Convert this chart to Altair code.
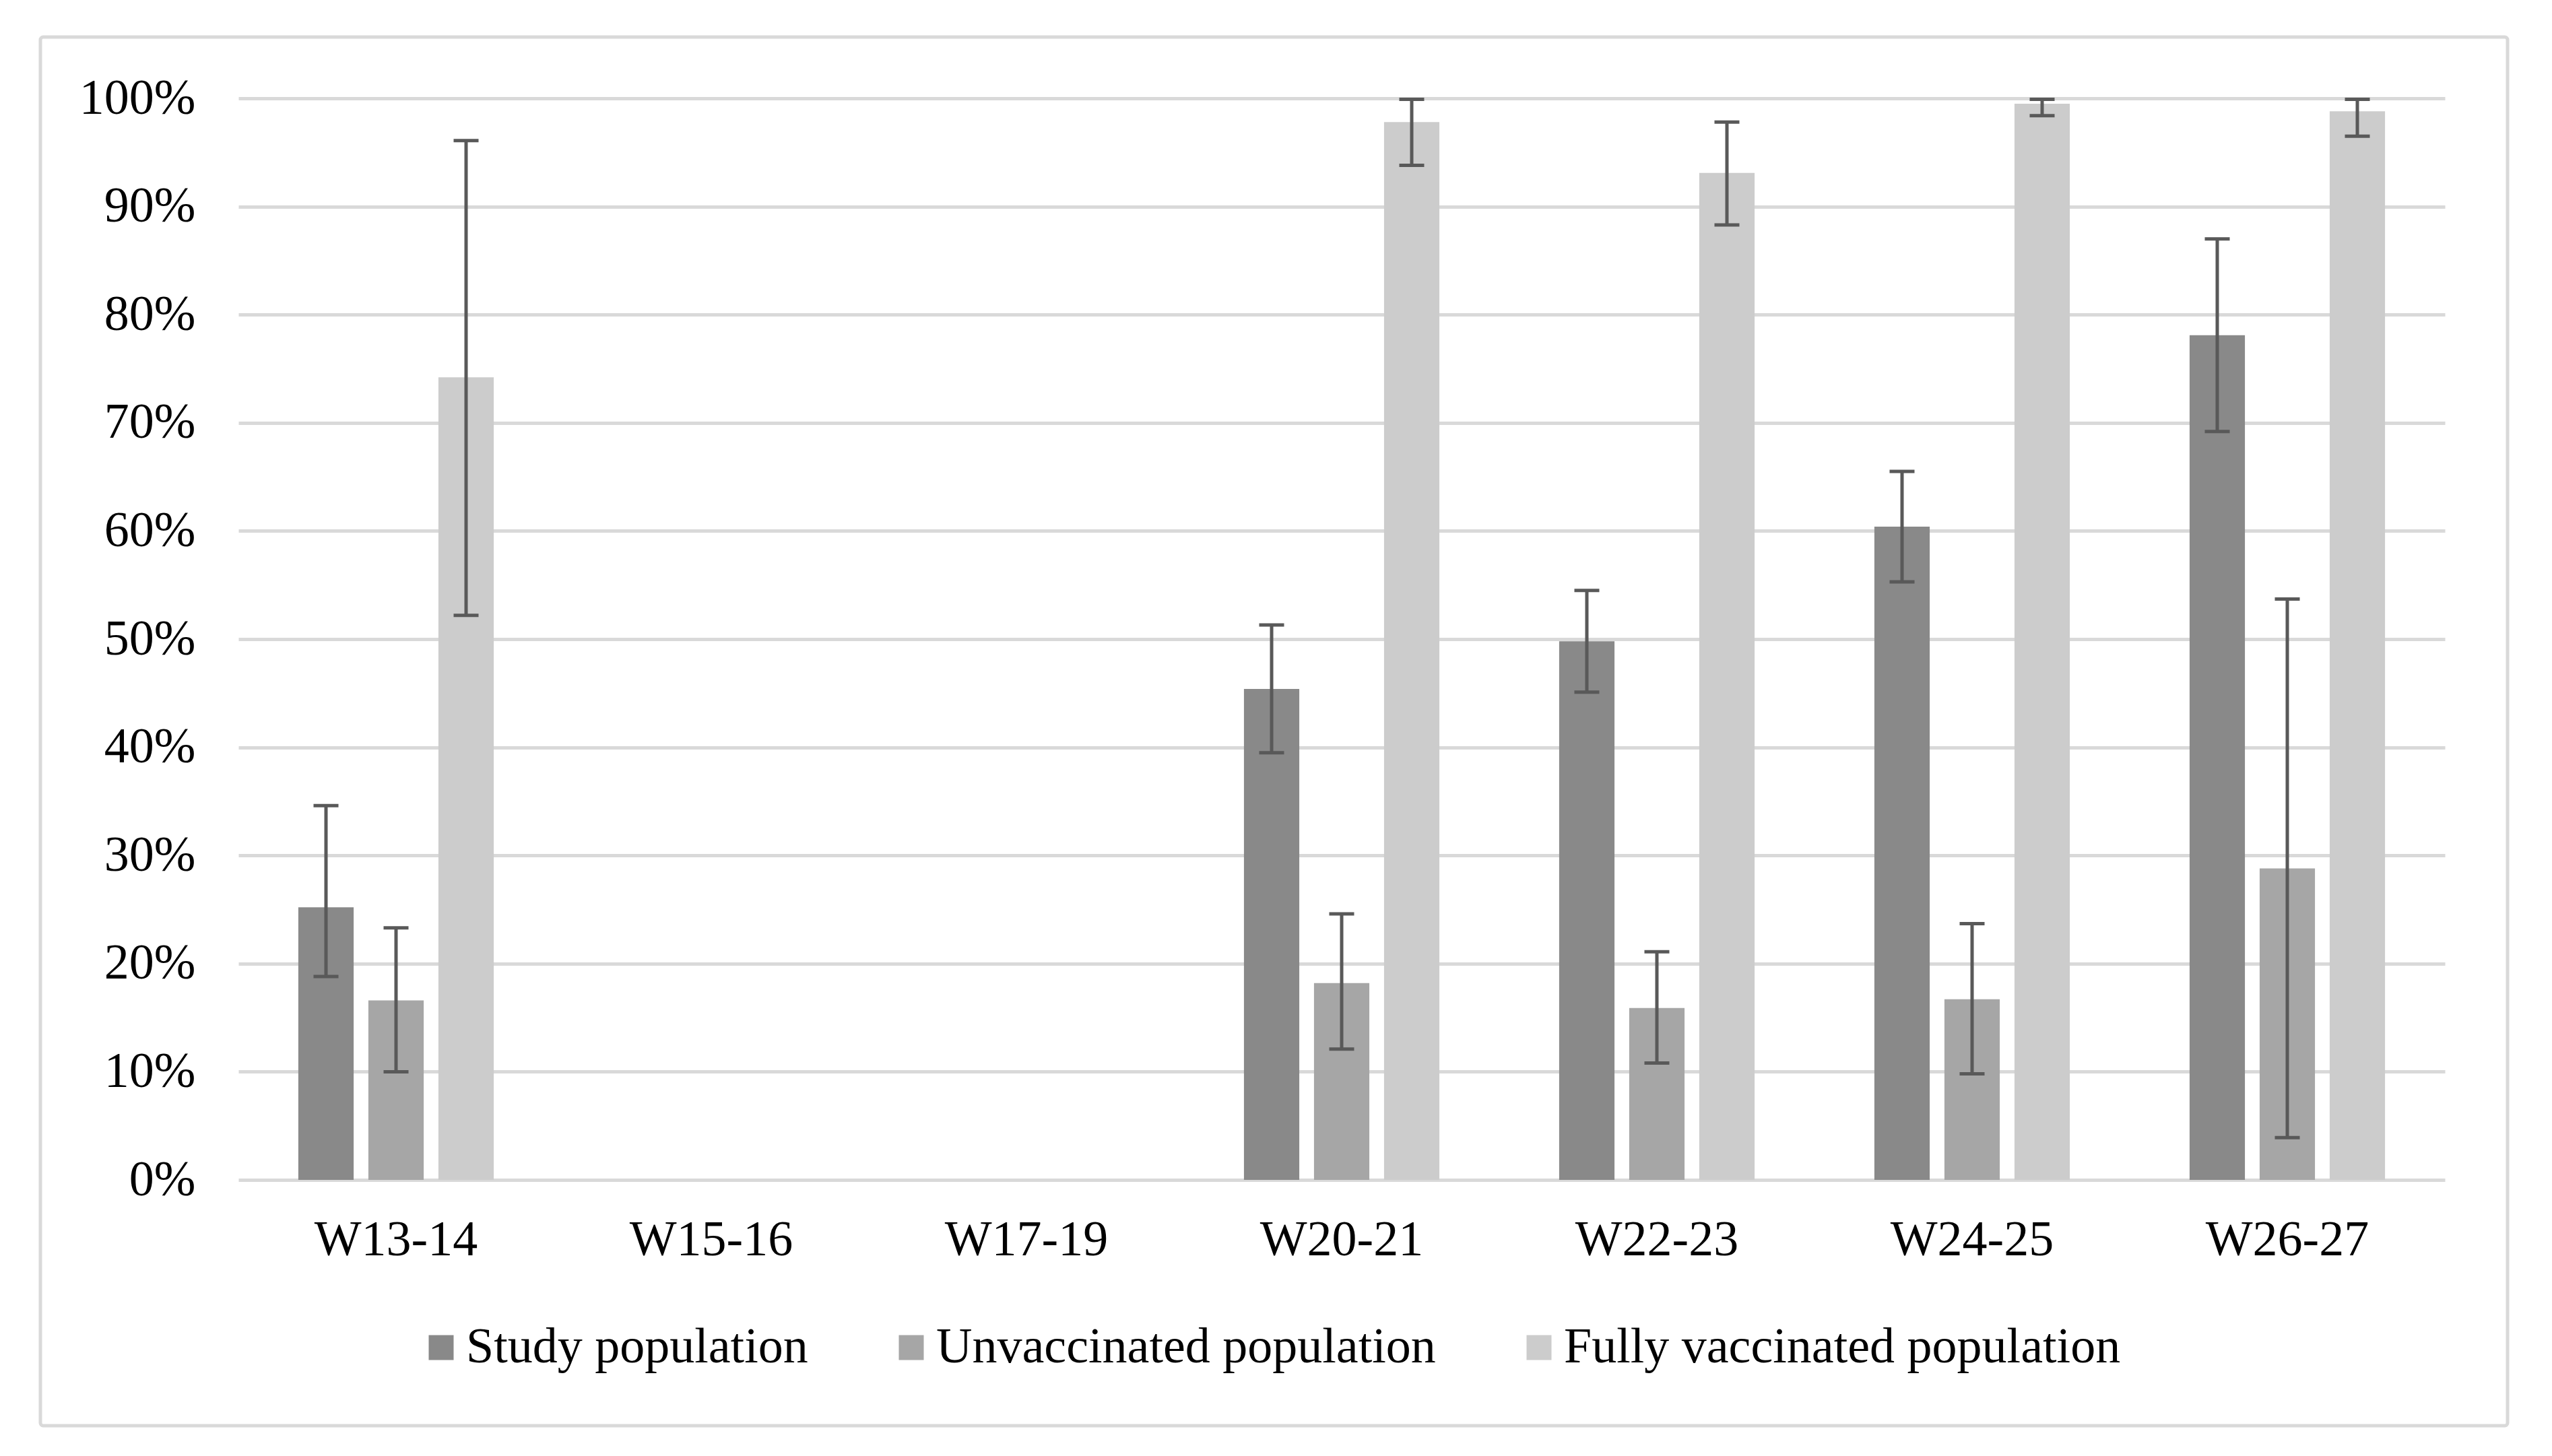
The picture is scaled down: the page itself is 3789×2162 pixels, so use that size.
import altair as alt
import pandas as pd

weeks = ["W13-14", "W15-16", "W17-19", "W20-21", "W22-23", "W24-25", "W26-27"]
series = ["Study population", "Unvaccinated population", "Fully vaccinated population"]
colors = ["#898989", "#a6a6a6", "#cccccc"]

data_weeks = ["W13-14", "W20-21", "W22-23", "W24-25", "W26-27"]
study = [0.252, 0.454, 0.498, 0.604, 0.781]
study_lo = [0.188, 0.395, 0.451, 0.553, 0.692]
study_hi = [0.346, 0.513, 0.545, 0.655, 0.870]
unvac = [0.166, 0.182, 0.159, 0.167, 0.288]
unvac_lo = [0.100, 0.121, 0.108, 0.098, 0.039]
unvac_hi = [0.233, 0.246, 0.211, 0.237, 0.537]
full = [0.742, 0.978, 0.931, 0.995, 0.988]
full_lo = [0.522, 0.938, 0.883, 0.984, 0.965]
full_hi = [0.961, 0.999, 0.978, 0.999, 0.999]

rows = []
for s, vals, los, his in [
    (series[0], study, study_lo, study_hi),
    (series[1], unvac, unvac_lo, unvac_hi),
    (series[2], full, full_lo, full_hi),
]:
    for w, v, lo, hi in zip(data_weeks, vals, los, his):
        rows.append({"week": w, "series": s, "value": v, "lo": lo, "hi": hi})
df = pd.DataFrame(rows)

FONT = "Liberation Serif"
FS = 74

x_enc = alt.X(
    "week:N",
    scale=alt.Scale(domain=weeks, paddingInner=0, paddingOuter=0),
    axis=alt.Axis(title=None, labelAngle=0, ticks=False, tickSize=0, domain=False,
                  labelPadding=53, labelFont=FONT, labelFontSize=FS, labelColor="#000000",
                  labelLimit=0),
)
xoff_enc = alt.XOffset(
    "series:N",
    scale=alt.Scale(domain=series, paddingInner=0.21, paddingOuter=0.855),
)
y_scale = alt.Scale(domain=[0, 1], nice=False)

base = alt.Chart(df)

bars = base.mark_bar().encode(
    x=x_enc,
    xOffset=xoff_enc,
    y=alt.Y(
        "value:Q",
        scale=y_scale,
        axis=alt.Axis(title=None, format=".0%", values=[i / 10 for i in range(11)],
                      ticks=False, tickSize=0, domain=False, labelPadding=64,
                      labelFont=FONT, labelFontSize=FS, labelColor="#000000",
                      grid=True, gridColor="#d9d9d9", gridWidth=5),
    ),
    color=alt.Color(
        "series:N",
        scale=alt.Scale(domain=series, range=colors),
        legend=alt.Legend(
            title=None, orient="none", direction="horizontal", legendX=264, legendY=1818,
            symbolType="square", symbolSize=1369, symbolStrokeWidth=0,
            labelFont=FONT, labelFontSize=FS, labelColor="#000000",
            labelOffset=0, columnPadding=116, padding=0, labelLimit=2000,
        ),
    ),
)

rules = base.mark_rule(color="#595959", strokeWidth=5).encode(
    x=alt.X("week:N"), xOffset=alt.XOffset("series:N"),
    y=alt.Y("lo:Q", scale=y_scale), y2="hi:Q",
)
caps_hi = base.mark_tick(color="#595959", size=37, thickness=5, opacity=1).encode(
    x=alt.X("week:N"), xOffset=alt.XOffset("series:N"),
    y=alt.Y("hi:Q", scale=y_scale),
)
caps_lo = base.mark_tick(color="#595959", size=37, thickness=5, opacity=1).encode(
    x=alt.X("week:N"), xOffset=alt.XOffset("series:N"),
    y=alt.Y("lo:Q", scale=y_scale),
)

frame = alt.Chart(pd.DataFrame({"k": [0]})).mark_rect(
    fill=None, stroke="#d9d9d9", strokeWidth=5, cornerRadius=4, clip=False
).encode(
    x=alt.value(-294), x2=alt.value(3369), y=alt.value(-91), y2=alt.value(1971)
)

chart = alt.layer(frame, bars, rules, caps_hi, caps_lo).properties(
    width=3276, height=1606,
    padding={"left": 49, "top": 44, "right": 10, "bottom": 10},
    background="#ffffff",
).configure_view(stroke=None)

chart.save("out.html", embed_options={"renderer": "svg", "actions": False})
